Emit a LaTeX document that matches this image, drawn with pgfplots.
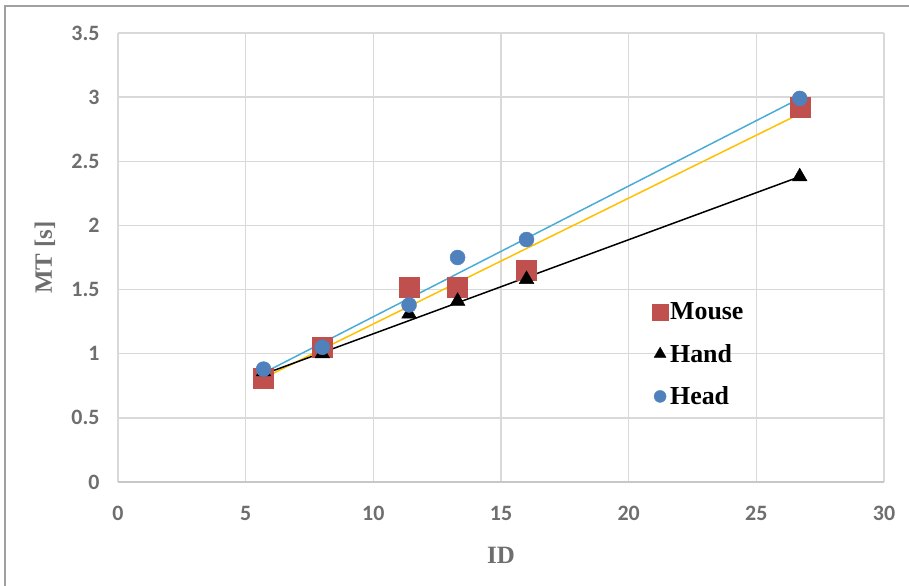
\documentclass[border=0pt]{standalone}
\usepackage{fontspec}
\usepackage{pgfplots}
\pgfplotsset{compat=1.18}
\setmainfont{Liberation Serif}
\newfontfamily\calibri{Carlito}
\definecolor{mouse}{RGB}{192,80,77}
\definecolor{head}{RGB}{79,129,189}
\definecolor{headline}{RGB}{75,172,214}
\definecolor{mouseline}{RGB}{255,192,0}
\definecolor{tickgray}{RGB}{110,110,110}
\definecolor{gridgray}{RGB}{217,217,217}
\definecolor{framegray}{RGB}{160,160,160}
\begin{document}
\begin{tikzpicture}
\useasboundingbox (-118bp,-104bp) rectangle (791bp,482bp);
\draw[framegray, line width=1.2bp] (-113bp,-110bp) -- (-113bp,476bp) -- (800bp,476bp);
\begin{axis}[
  at={(0,0)}, anchor=south west,
  scale only axis, width=766bp, height=449bp,
  xmin=0, xmax=30, ymin=0, ymax=3.5,
  xtick={0,5,...,30}, ytick={0,0.5,...,3.5},
  yticklabels={0,0.5,1,1.5,2,2.5,3,3.5},
  xticklabels={0,5,10,15,20,25,30},
  major tick length=0pt,
  axis line style={draw=none},
  grid=major, grid style={gridgray, line width=1.5bp},
  tick label style={font=\calibri\bfseries\fontsize{22}{22}\selectfont, text=tickgray},
  xticklabel style={yshift=-21bp},
  yticklabel style={xshift=-15bp},
  xlabel={ID}, ylabel={MT [s]},
  label style={font=\bfseries\fontsize{25}{25}\selectfont, text=tickgray},
  xlabel style={at={(axis description cs:0.5,-0.1626)}, anchor=center},
  ylabel style={at={(axis description cs:-0.0953,0.5)}, anchor=center},
  legend style={draw=none, fill=none, at={(0.697,0.404)}, anchor=north west,
    font=\bfseries\fontsize{26}{26}\selectfont, row sep=19bp,
    inner sep=0pt},
  legend cell align=left,
  legend image code/.code={\draw[#1, mark options={scale=0.8}] plot coordinates {(0.2cm,0cm)};},
]
% axis line at y=0
\draw[gridgray!80!gray, line width=1.5bp] (axis cs:0,0) -- (axis cs:30,0);
% trendlines
\addplot[headline, line width=1.5bp, forget plot] coordinates {(5.7,0.85) (26.7,2.99)};
\addplot[mouseline, line width=1.5bp, forget plot] coordinates {(5.7,0.81) (26.7,2.87)};
\addplot[black, line width=1.5bp, forget plot] coordinates {(5.7,0.84) (26.7,2.38)};
% data
\addplot[only marks, mark=square*, mark size=10bp, mouse, mark options={fill=mouse, draw=mouse}]
  coordinates {(5.7,0.81) (8,1.05) (11.4,1.52) (13.3,1.52) (16,1.65) (26.7,2.92)};
\addlegendentry{Mouse}
\addplot[only marks, mark=triangle*, mark size=8.5bp, black]
  coordinates {(5.7,0.86) (8,1.0) (11.4,1.31) (13.3,1.41) (16,1.58) (26.7,2.38)};
\addlegendentry{Hand}
\addplot[only marks, mark=*, mark size=7.5bp, head, mark options={fill=head, draw=head}]
  coordinates {(5.7,0.88) (8,1.05) (11.4,1.38) (13.3,1.75) (16,1.89) (26.7,2.99)};
\addlegendentry{Head}
\end{axis}
\end{tikzpicture}
\end{document}
